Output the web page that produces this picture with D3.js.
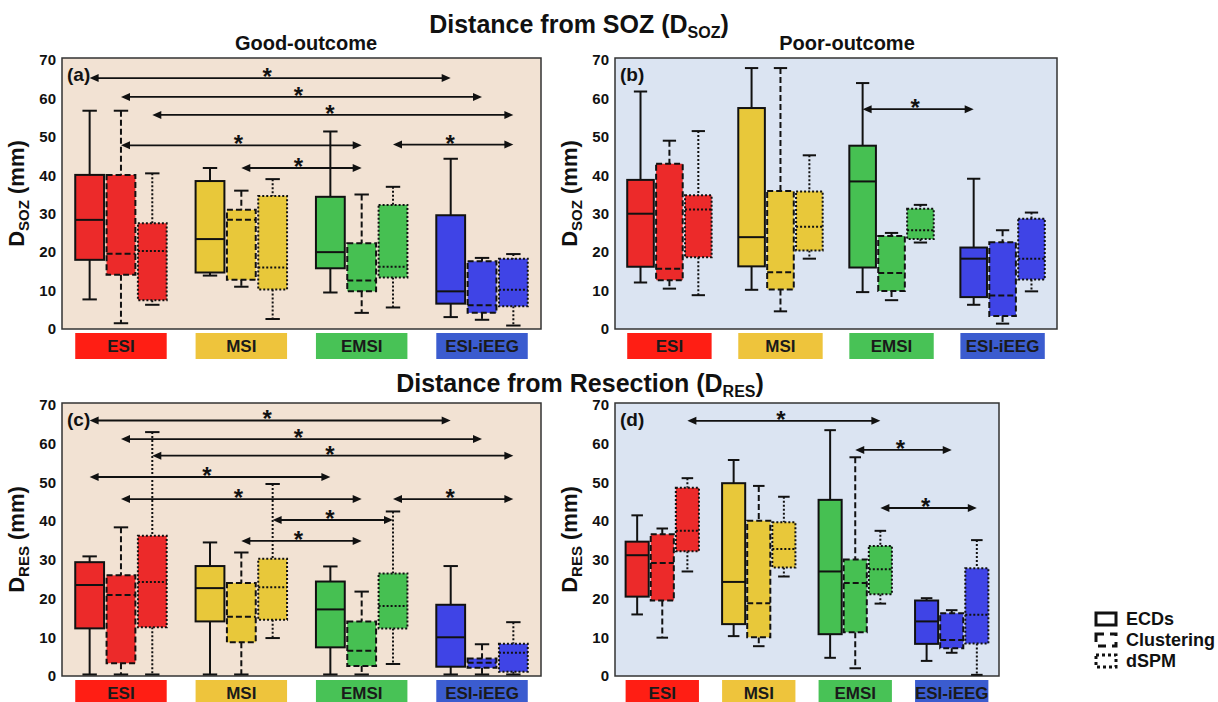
<!DOCTYPE html>
<html>
<head>
<meta charset="utf-8">
<script src="https://cdn.jsdelivr.net/npm/d3@7"></script>
<style>
  body { margin: 0; background: #fff; }
  text { font-family: "Liberation Sans", Arial, sans-serif; font-weight: bold; }
</style>
</head>
<body>
<div id="svg-area"></div>
<script>
var svgWidth = 1218;
var svgHeight = 702;

var groups = ["ESI", "MSI", "EMSI", "ESI-iEEG"];
var methods = ["ECDs", "Clustering", "dSPM"];
var yTicks = [0, 10, 20, 30, 40, 50, 60, 70];

// [lower whisker, q1, median, q3, upper whisker] for ECDs, Clustering, dSPM in each group
var sozGood = [
  [[7.7, 18.0, 28.4, 40.1, 56.8], [1.5, 14.1, 19.6, 40.1, 56.8], [6.3, 7.5, 20.3, 27.5, 40.5]],
  [[13.9, 14.7, 23.4, 38.5, 41.9], [11.0, 12.8, 28.4, 31.0, 36.0], [2.6, 10.3, 16.0, 34.6, 39.0]],
  [[9.5, 15.8, 20.0, 34.4, 51.4], [4.2, 9.8, 12.6, 22.3, 35.0], [5.6, 13.4, 16.2, 32.3, 37.0]],
  [[3.1, 6.6, 9.8, 29.6, 44.3], [2.4, 4.2, 6.2, 17.6, 18.5], [0.9, 5.9, 10.2, 18.3, 19.5]]
];
var sozPoor = [
  [[12.1, 16.2, 30.0, 38.8, 61.8], [10.5, 12.7, 15.7, 43.0, 49.0], [8.8, 18.7, 31.1, 34.8, 51.5]],
  [[10.2, 16.3, 23.9, 57.5, 67.9], [4.6, 10.3, 14.8, 35.9, 67.9], [18.3, 20.4, 26.6, 35.8, 45.2]],
  [[9.6, 16.0, 38.4, 47.7, 64.0], [7.5, 9.9, 14.6, 24.2, 25.0], [22.5, 23.4, 25.7, 31.3, 32.3]],
  [[6.3, 8.3, 18.3, 21.2, 39.1], [1.4, 3.4, 8.7, 22.6, 25.7], [9.8, 12.9, 18.3, 28.7, 30.3]]
];
var resGood = [
  [[0.4, 12.3, 23.5, 29.4, 30.9], [0.4, 3.3, 20.9, 26.0, 38.4], [0.4, 12.6, 24.3, 36.2, 63.0]],
  [[0.4, 14.1, 22.7, 28.4, 34.5], [0.4, 8.7, 15.3, 24.0, 31.9], [9.8, 14.5, 22.9, 30.3, 49.6]],
  [[0.4, 7.4, 17.2, 24.4, 28.3], [0.4, 2.6, 6.5, 14.1, 21.8], [3.1, 12.3, 18.1, 26.5, 42.5]],
  [[0.4, 2.4, 10.0, 18.4, 28.4], [0.4, 2.1, 3.4, 4.5, 8.2], [0.4, 1.1, 6.0, 8.3, 13.9]]
];
var resPoor = [
  [[15.9, 20.5, 31.2, 34.7, 41.5], [9.9, 19.5, 29.2, 36.6, 38.1], [27.0, 32.2, 37.5, 48.6, 51.1]],
  [[10.3, 13.4, 24.3, 49.8, 55.8], [7.7, 10.0, 18.8, 40.1, 49.1], [25.7, 28.0, 32.8, 39.7, 46.3]],
  [[4.7, 10.8, 27.0, 45.5, 63.5], [2.0, 11.3, 24.0, 30.1, 56.5], [18.7, 21.1, 27.6, 33.6, 37.5]],
  [[3.9, 8.3, 14.1, 19.5, 20.1], [6.0, 7.2, 9.3, 16.2, 17.0], [0.3, 8.4, 15.8, 27.8, 35.1]]
];

// significance arrows: [from group, from method, to group, to method, height]
var sigSozGood = [[0, 0, 3, 0, 65.3], [0, 1, 3, 1, 60.4], [0, 2, 3, 2, 55.7], [0, 1, 2, 1, 47.8], [1, 1, 2, 1, 41.9], [2, 2, 3, 2, 48.0]];
var sigSozPoor = [[2, 0, 3, 0, 57.2]];
var sigResGood = [[0, 0, 3, 0, 66.0], [0, 1, 3, 1, 61.2], [0, 2, 3, 2, 56.9], [0, 0, 2, 0, 51.4], [0, 1, 2, 1, 45.7], [1, 2, 2, 2, 40.3], [1, 1, 2, 1, 34.9], [2, 2, 3, 2, 45.7]];
var sigResPoor = [[0, 2, 2, 2, 65.9], [2, 1, 3, 1, 58.4], [2, 2, 3, 2, 43.4]];

var boxColors = ["#ec2a2a", "#e8c83a", "#46c052", "#3f44e6"];
var tagColors = ["#ff1e14", "#eec43c", "#48c256", "#3b5ccf"];
var dashes = [null, "6,3", "2,2"];

var svg = d3.select("#svg-area").append("svg")
  .attr("width", svgWidth)
  .attr("height", svgHeight);

function drawPanel(p) {
  var y = d3.scaleLinear().domain([0, 70]).range([p.bottom, p.top + 2]);
  var xGroup = d3.scaleBand().domain(groups).range([p.left, p.right])
    .paddingInner(0.24).paddingOuter(0.11);
  var xSub = d3.scaleBand().domain(methods).range([0, xGroup.bandwidth()]).paddingInner(0.08);
  var bw = xSub.bandwidth();
  var cx = function(gi, mi) { return xGroup(groups[gi]) + xSub(methods[mi]) + bw / 2; };

  var g = svg.append("g");

  g.append("rect")
    .attr("x", p.left).attr("y", p.top)
    .attr("width", p.right - p.left).attr("height", p.bottom - p.top)
    .attr("fill", p.bg).attr("stroke", "#333").attr("stroke-width", 1.5);

  var axis = g.append("g")
    .attr("transform", `translate(${p.left}, 0)`)
    .call(d3.axisLeft(y).tickValues(yTicks).tickSize(0).tickPadding(6));
  axis.select(".domain").remove();
  axis.selectAll("text").attr("font-size", 15).attr("fill", "#111")
    .style("font-family", "'Liberation Sans', Arial, sans-serif").style("font-weight", "bold");

  var yl = g.append("text")
    .attr("transform", `translate(${p.left - 38}, ${(p.top + p.bottom) / 2}) rotate(-90)`)
    .attr("text-anchor", "middle").attr("font-size", 22).attr("fill", "#111");
  yl.append("tspan").text("D");
  yl.append("tspan").attr("font-size", 15).attr("dy", 5).text(p.sub);
  yl.append("tspan").attr("dy", -5).text(" (mm)");

  g.append("text").attr("x", p.left + 5).attr("y", p.top + 23)
    .attr("font-size", 19).attr("fill", "#111").text(p.tag);

  // category boxes under the axis
  groups.forEach(function(name, gi) {
    g.append("rect")
      .attr("x", xGroup(name)).attr("y", p.bottom + 4)
      .attr("width", xGroup.bandwidth()).attr("height", 26)
      .attr("fill", tagColors[gi]);
    g.append("text")
      .attr("x", xGroup(name) + xGroup.bandwidth() / 2).attr("y", p.bottom + 23)
      .attr("text-anchor", "middle").attr("font-size", 17).attr("fill", "#1a1a1a")
      .text(name);
  });

  // box plots
  p.data.forEach(function(row, gi) {
    row.forEach(function(s, mi) {
      var c = cx(gi, mi);
      var x0 = c - bw / 2;
      var dash = dashes[mi];
      var line = function(xa, ya, xb, yb, d) {
        g.append("line").attr("x1", xa).attr("y1", ya).attr("x2", xb).attr("y2", yb)
          .attr("stroke", "#111").attr("stroke-width", 2)
          .attr("stroke-dasharray", d);
      };
      line(c, y(s[4]), c, y(s[3]), dash);
      line(c, y(s[1]), c, y(s[0]), dash);
      line(c - bw * 0.25, y(s[4]), c + bw * 0.25, y(s[4]), null);
      line(c - bw * 0.25, y(s[0]), c + bw * 0.25, y(s[0]), null);
      g.append("rect")
        .attr("x", x0).attr("y", y(s[3]))
        .attr("width", bw).attr("height", y(s[1]) - y(s[3]))
        .attr("fill", boxColors[gi]).attr("stroke", "#111").attr("stroke-width", 2)
        .attr("stroke-dasharray", dash);
      line(x0, y(s[2]), x0 + bw, y(s[2]), dash);
    });
  });

  // significance arrows
  p.sig.forEach(function(a) {
    var xa = cx(a[0], a[1]);
    var xb = cx(a[2], a[3]);
    var yy = y(a[4]);
    g.append("line").attr("x1", xa + 4).attr("y1", yy).attr("x2", xb - 4).attr("y2", yy)
      .attr("stroke", "#111").attr("stroke-width", 1.8);
    g.append("path")
      .attr("d", `M${xa},${yy} L${xa + 9},${yy - 4} L${xa + 9},${yy + 4} Z`)
      .attr("fill", "#111");
    g.append("path")
      .attr("d", `M${xb},${yy} L${xb - 9},${yy - 4} L${xb - 9},${yy + 4} Z`)
      .attr("fill", "#111");
    g.append("text")
      .attr("x", (xa + xb) / 2 - 3).attr("y", yy + 7)
      .attr("text-anchor", "middle").attr("font-size", 24).attr("fill", "#111")
      .text("*");
  });
}

drawPanel({ left: 62, right: 541, top: 58, bottom: 329, bg: "#f2e2d3", data: sozGood, sig: sigSozGood, tag: "(a)", sub: "SOZ" });
drawPanel({ left: 615, right: 1057, top: 58, bottom: 329, bg: "#dbe4f2", data: sozPoor, sig: sigSozPoor, tag: "(b)", sub: "SOZ" });
drawPanel({ left: 62, right: 541, top: 403, bottom: 676, bg: "#f2e2d3", data: resGood, sig: sigResGood, tag: "(c)", sub: "RES" });
drawPanel({ left: 615, right: 999, top: 403, bottom: 676, bg: "#dbe4f2", data: resPoor, sig: sigResPoor, tag: "(d)", sub: "RES" });

// titles
var t1 = svg.append("text").attr("x", 579).attr("y", 33)
  .attr("text-anchor", "middle").attr("font-size", 25).attr("fill", "#111");
t1.append("tspan").text("Distance from SOZ (D");
t1.append("tspan").attr("font-size", 16).attr("dy", 5).text("SOZ");
t1.append("tspan").attr("dy", -5).text(")");

var t2 = svg.append("text").attr("x", 580).attr("y", 392)
  .attr("text-anchor", "middle").attr("font-size", 25).attr("fill", "#111");
t2.append("tspan").text("Distance from Resection (D");
t2.append("tspan").attr("font-size", 16).attr("dy", 5).text("RES");
t2.append("tspan").attr("dy", -5).text(")");

svg.append("text").attr("x", 306).attr("y", 50).attr("text-anchor", "middle")
  .attr("font-size", 20).attr("fill", "#111").text("Good-outcome");
svg.append("text").attr("x", 847).attr("y", 50).attr("text-anchor", "middle")
  .attr("font-size", 20).attr("fill", "#111").text("Poor-outcome");

// legend
var legendDash = [null, "8,6", "3,3"];
methods.forEach(function(m, i) {
  var ly = 619 + i * 21;
  svg.append("rect").attr("x", 1096).attr("y", ly - 6).attr("width", 20).attr("height", 12)
    .attr("fill", "none").attr("stroke", "#111").attr("stroke-width", 3)
    .attr("stroke-dasharray", legendDash[i]);
  svg.append("text").attr("x", 1126).attr("y", ly + 6)
    .attr("font-size", 18).attr("fill", "#111").text(m);
});
</script>
</body>
</html>
